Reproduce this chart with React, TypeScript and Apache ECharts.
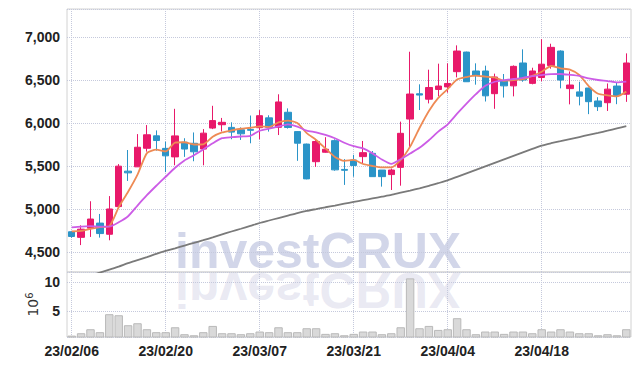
import React, { useEffect, useRef } from "react";
import * as echarts from "echarts";

const dates = [
  "23/02/06","23/02/07","23/02/08","23/02/09","23/02/10","23/02/13","23/02/14","23/02/15","23/02/16","23/02/17",
  "23/02/20","23/02/21","23/02/22","23/02/23","23/02/24","23/02/27","23/02/28","23/03/02","23/03/03","23/03/06",
  "23/03/07","23/03/08","23/03/09","23/03/10","23/03/13","23/03/14","23/03/15","23/03/16","23/03/17","23/03/20",
  "23/03/21","23/03/22","23/03/23","23/03/24","23/03/27","23/03/28","23/03/29","23/03/30","23/03/31","23/04/03",
  "23/04/04","23/04/05","23/04/06","23/04/07","23/04/10","23/04/11","23/04/12","23/04/13","23/04/14","23/04/17",
  "23/04/18","23/04/19","23/04/20","23/04/21","23/04/24","23/04/25","23/04/26","23/04/27","23/04/28","23/05/02",
];

const opens = [
  4735,4670,4777,4836,4706,5028,5440,5490,5706,5851,
  5705,5606,5776,5764,5697,5941,5980,5949,5921,5925,
  5945,6060,5950,6125,5900,5755,5550,5660,5795,5460,
  5570,5609,5647,5453,5400,5484,6046,6340,6277,6390,
  6420,6597,6825,6605,6605,6341,6494,6432,6698,6461,
  6529,6668,6837,6400,6362,6407,6256,6236,6430,6335,
];
const closes = [
  4680,4765,4883,4714,5000,5498,5420,5718,5863,5796,
  5618,5850,5697,5665,5882,6028,6008,5894,5874,5915,
  6085,5950,6245,5948,5765,5350,5785,5695,5455,5450,
  5505,5655,5376,5376,5453,5880,6337,6325,6413,6430,
  6460,6837,6480,6550,6316,6535,6432,6659,6500,6605,
  6684,6880,6500,6442,6312,6248,6190,6394,6320,6698,
];
const lows = [
  4665,4580,4675,4667,4636,5020,5326,5490,5667,5678,
  5429,5508,5606,5555,5508,5929,5902,5811,5803,5764,
  5810,5900,5860,5935,5560,5345,5490,5655,5445,5280,
  5375,5523,5376,5260,5221,5271,5720,6151,6228,6310,
  6353,6531,6480,6446,6250,6165,6296,6310,6480,6450,
  6485,6632,6403,6217,6205,6103,6140,6140,6219,6246,
];
const highs = [
  4745,4810,5090,4942,5150,5522,5686,5871,5976,5914,
  5783,6165,5823,5890,5929,6200,6059,6008,5949,6087,
  6150,6090,6334,6170,5905,5760,5805,5835,5810,5580,
  5630,5791,5674,5453,5470,6016,6829,6450,6620,6690,
  6694,6903,6830,6694,6667,6574,6570,6670,6857,6643,
  6975,6922,6845,6600,6480,6411,6300,6460,6475,6810,
];

const ma5 = [
  4740,4745,4770,4790,4800,5020,5200,5400,5650,5690,
  5670,5772,5776,5750,5752,5840,5890,5913,5933,5945,
  5961,5953,6008,6028,6000,5882,5803,5705,5606,5559,
  5570,5523,5500,5484,5484,5570,5725,5942,6140,6292,
  6395,6505,6535,6552,6540,6530,6490,6500,6510,6548,
  6597,6663,6636,6620,6558,6430,6340,6322,6310,6365,
];
const ma10 = [
  4785,4795,4800,4795,4795,4845,4915,5040,5160,5270,
  5375,5480,5565,5626,5693,5764,5823,5835,5843,5850,
  5910,5935,5960,5985,5958,5912,5892,5862,5823,5770,
  5730,5705,5647,5575,5525,5578,5645,5712,5800,5899,
  5985,6108,6225,6335,6432,6480,6500,6512,6525,6545,
  6558,6568,6570,6560,6547,6519,6500,6488,6473,6481,
];
const ma60 = [
  4150,4190,4225,4260,4295,4330,4370,4405,4440,4478,
  4512,4543,4575,4605,4637,4670,4705,4738,4770,4803,
  4837,4866,4895,4924,4953,4978,4999,5020,5040,5061,
  5082,5103,5123,5143,5163,5189,5214,5240,5268,5300,
  5333,5374,5415,5455,5496,5537,5578,5618,5658,5698,
  5738,5765,5789,5813,5837,5861,5884,5910,5937,5963,
];
const volumes = [
  0.74,1.15,1.84,1.33,4.43,4.25,2.53,2.87,1.84,1.33,
  1.33,2.18,0.98,0.80,1.33,2.41,1.15,1.15,0.98,1.15,
  1.44,1.33,2.18,1.33,1.33,2.01,2.01,1.04,1.15,0.80,
  1.04,1.44,1.44,0.98,1.15,2.18,10.6,2.01,2.41,1.72,
  1.84,3.74,1.84,0.98,1.44,1.44,1.04,1.44,1.44,1.15,
  1.84,1.44,1.84,1.44,1.15,1.15,0.80,0.98,0.80,1.84,
];

const UP = "#e8196a";
const DOWN = "#2b94c8";
const LABEL_FONT = "'Liberation Sans', Arial, sans-serif";
const GRID_LINE = "#c5c9dc";

export default function App() {
  const ref = useRef<HTMLDivElement>(null);
  useEffect(() => {
    if (!ref.current) return;
    const chart = echarts.init(ref.current, null, { renderer: "svg" });
    const labelStyle = {
      fontFamily: LABEL_FONT,
      fontSize: 14,
      fontWeight: "bold" as const,
      color: "#222",
    };
    const candleData = opens.map((o, i) => [o, closes[i], lows[i], highs[i]]);
    const wmStyle = {
      text: "investCRUX",
      fontFamily: "'Liberation Sans', Arial, sans-serif",
      fontWeight: "bold",
      fontSize: 50,
      verticalAlign: "bottom",
      align: "left",
    };
    chart.setOption({
      animation: false,
      backgroundColor: "#ffffff",
      graphic: [
        {
          type: "text",
          x: 175,
          y: 276,
          silent: true,
          z: 0,
          style: { ...wmStyle, fill: "rgba(160,170,210,0.48)" },
        },
        {
          type: "text",
          x: 175,
          y: 265,
          scaleY: -1,
          silent: true,
          z: 0,
          style: { ...wmStyle, fill: "rgba(200,200,225,0.4)" },
        },
      ],
      grid: [
        { left: 67, right: 8, top: 9, height: 263, show: true, borderColor: "#d2d2d2", borderWidth: 1 },
        { left: 67, right: 8, top: 272, height: 65, show: true, borderColor: "#d2d2d2", borderWidth: 1 },
      ],
      xAxis: [
        {
          type: "category",
          gridIndex: 0,
          data: dates,
          boundaryGap: true,
          axisLine: { show: false },
          axisTick: { show: false },
          axisLabel: { show: false },
          splitLine: { show: true, interval: 9, alignWithLabel: true, lineStyle: { type: "dotted", color: GRID_LINE } },
        },
        {
          type: "category",
          gridIndex: 1,
          data: dates,
          boundaryGap: true,
          axisLine: { show: false },
          axisTick: { show: false },
          axisLabel: { ...labelStyle, interval: 9, margin: 7 },
          splitLine: { show: true, interval: 9, alignWithLabel: true, lineStyle: { type: "dotted", color: GRID_LINE } },
        },
      ],
      yAxis: [
        {
          type: "value",
          gridIndex: 0,
          min: 4267,
          max: 7326,
          splitNumber: 5,
          axisLine: { show: false },
          axisTick: { show: false },
          axisLabel: {
            ...labelStyle,
            margin: 7,
            showMinLabel: false,
            showMaxLabel: false,
            formatter: (v: number) => v.toLocaleString("en-US"),
          },
          splitLine: { show: true, lineStyle: { type: "dotted", color: GRID_LINE } },
        },
        {
          type: "value",
          gridIndex: 1,
          min: 0.5,
          max: 11.7,
          splitNumber: 2,
          axisLine: { show: false },
          axisTick: { show: false },
          axisLabel: { ...labelStyle, margin: 7, showMinLabel: false, showMaxLabel: false },
          splitLine: { show: true, lineStyle: { type: "dotted", color: GRID_LINE } },
          name: "{a|10}{b|6}",
          nameLocation: "middle",
          nameRotate: 90,
          nameGap: 25,
          nameMoveOverlap: false,
          nameTextStyle: {
            rich: {
              a: { fontSize: 14, color: "#333", fontFamily: "'DejaVu Sans', sans-serif" },
              b: { fontSize: 10, color: "#333", fontFamily: "'DejaVu Sans', sans-serif", verticalAlign: "top", padding: [0, 0, 8, 0] },
            },
          },
        },
      ],
      series: [
        {
          type: "candlestick",
          name: "price",
          xAxisIndex: 0,
          yAxisIndex: 0,
          data: candleData,
          barWidth: "72%",
          itemStyle: { color: UP, color0: DOWN, borderColor: UP, borderColor0: DOWN, borderWidth: 1 },
          z: 3,
        },
        {
          type: "line",
          name: "MA5",
          xAxisIndex: 0,
          yAxisIndex: 0,
          data: ma5,
          smooth: 0.2,
          showSymbol: false,
          lineStyle: { color: "#ee8a54", width: 1.8 },
          z: 4,
        },
        {
          type: "line",
          name: "MA10",
          xAxisIndex: 0,
          yAxisIndex: 0,
          data: ma10,
          smooth: 0.2,
          showSymbol: false,
          lineStyle: { color: "#cc5ce6", width: 1.8 },
          z: 4,
        },
        {
          type: "line",
          name: "MA60",
          xAxisIndex: 0,
          yAxisIndex: 0,
          data: ma60,
          smooth: 0.2,
          showSymbol: false,
          lineStyle: { color: "#7a7a7a", width: 1.8 },
          z: 4,
        },
        {
          type: "bar",
          name: "volume",
          xAxisIndex: 1,
          yAxisIndex: 1,
          data: volumes,
          barCategoryGap: "10%",
          itemStyle: { color: "#d9d9d9", borderColor: "#b9b9b9", borderWidth: 1 },
        },
      ],
    });
    return () => chart.dispose();
  }, []);
  return (
    <div
      ref={ref}
      style={{ position: "fixed", left: 0, top: 0, width: 639, height: 366, background: "#fff" }}
    />
  );
}
